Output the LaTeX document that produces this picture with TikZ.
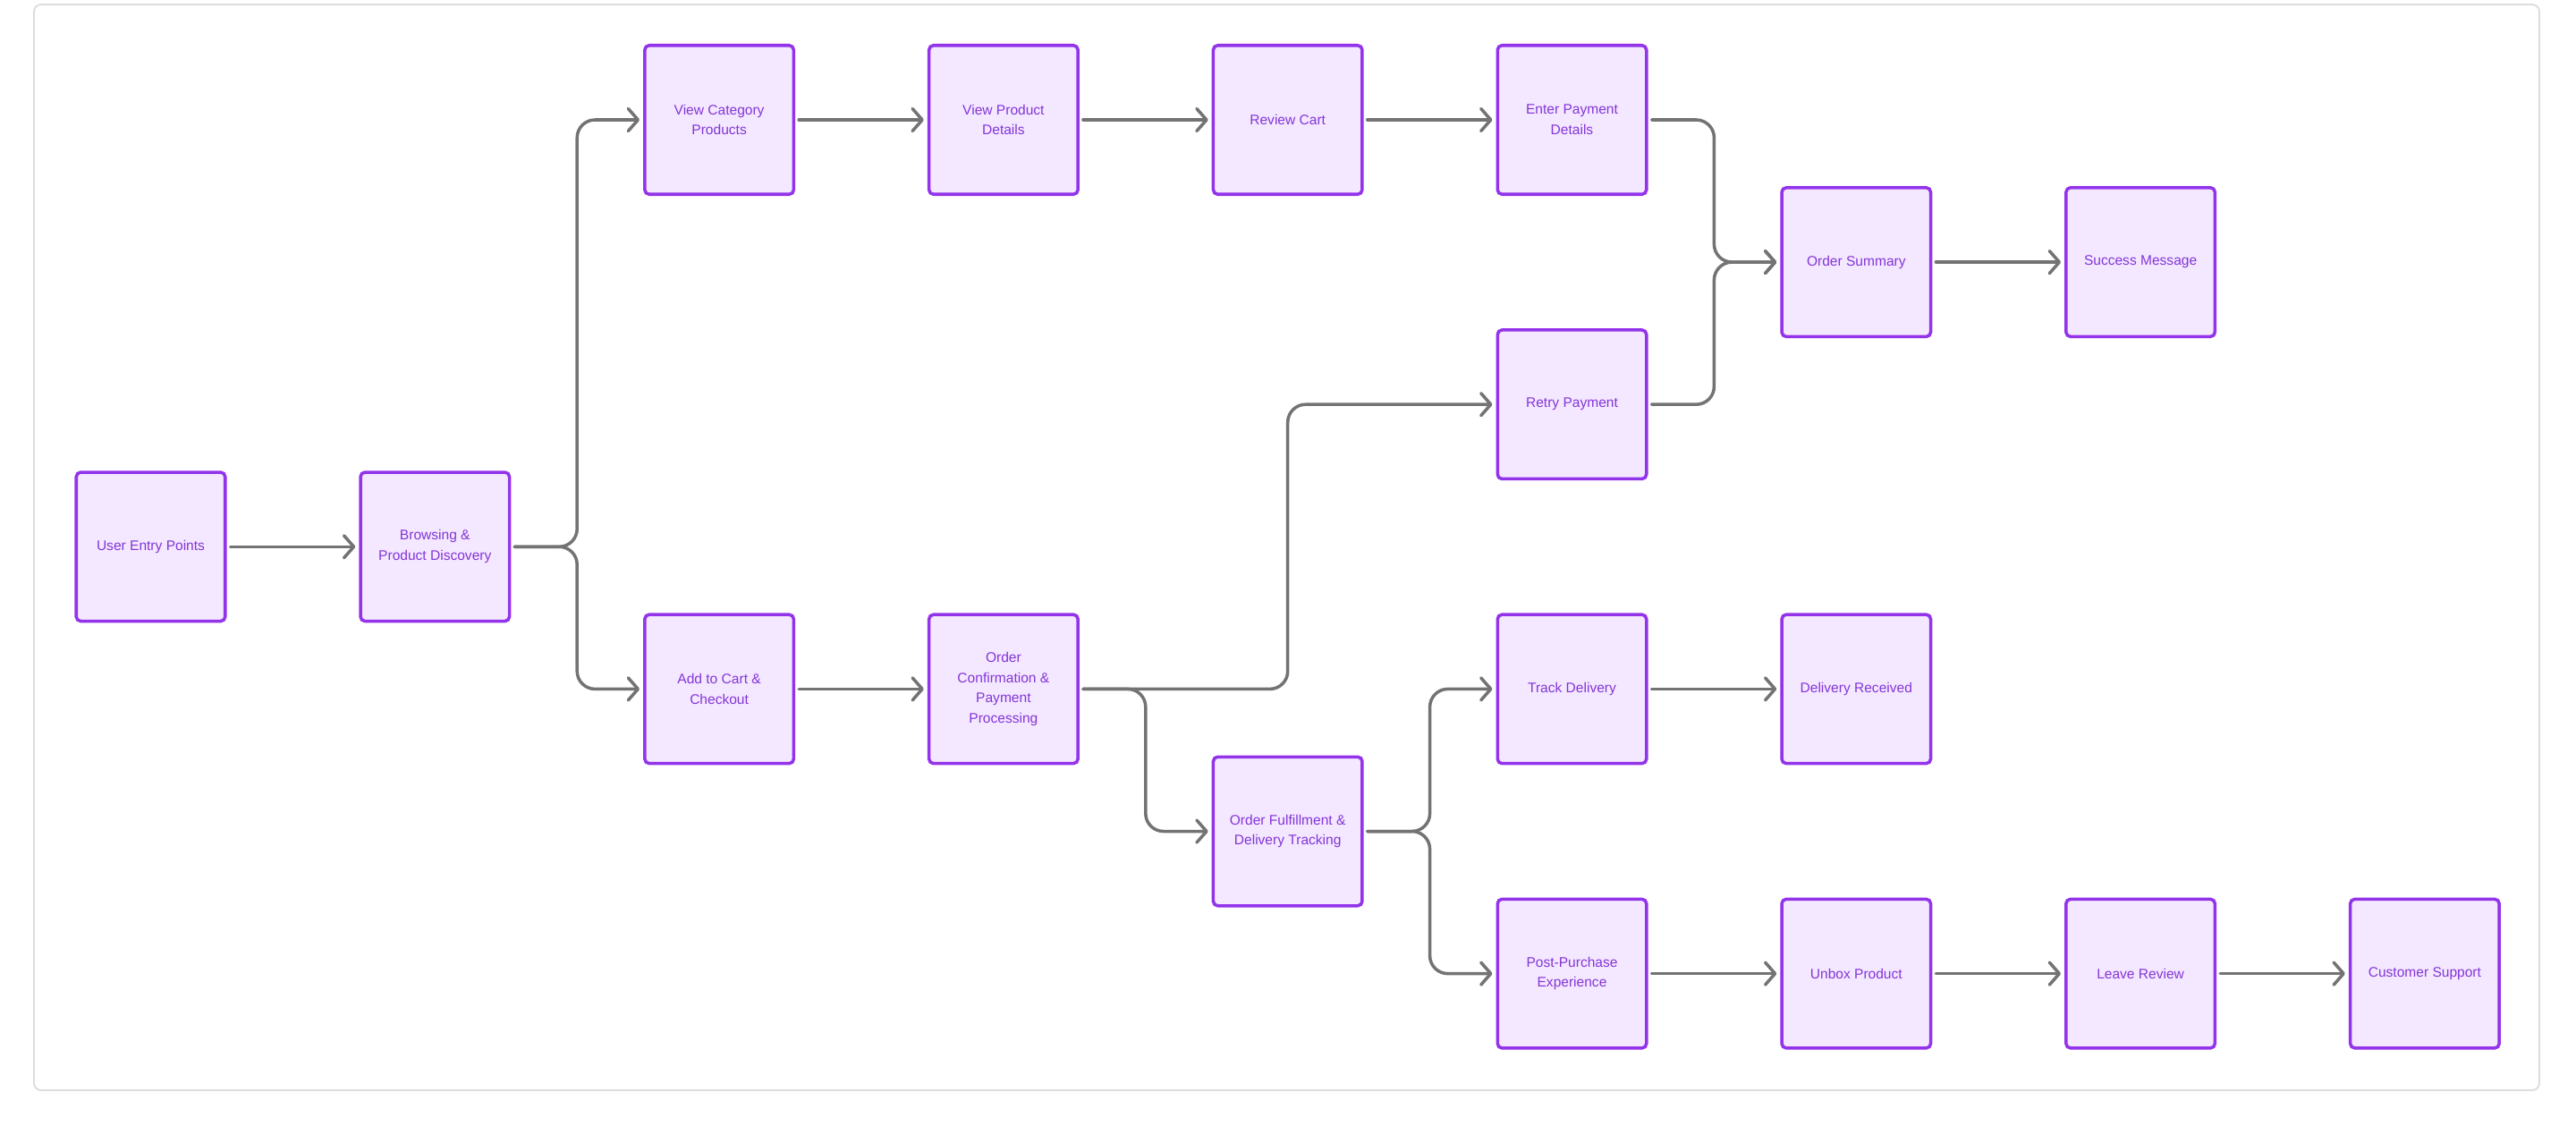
\documentclass[tikz,border=0pt]{standalone}
\usepackage{xcolor}
\usepackage{fontspec}
\setmainfont{Liberation Sans}
\usetikzlibrary{arrows.meta,calc}

\definecolor{boxline}{HTML}{9333EA}
\definecolor{boxfill}{HTML}{F3E8FF}
\definecolor{boxtext}{HTML}{8435D8}
\definecolor{flowline}{HTML}{737373}
\definecolor{frameline}{HTML}{DDDDDD}

\tikzset{
  elbow/.style={to path={-| ($(\tikztostart)!.5!(\tikztotarget)$) |- (\tikztotarget)}}
}

\begin{document}
\begin{tikzpicture}
        \useasboundingbox (0,0) rectangle (57.6,-25.16);
        \draw[frameline,line width=1.1pt,rounded corners=0.16cm] (0.76,-0.1) rectangle (56.78,-24.38);
        \begin{scope}[every node/.style={draw=boxline,fill=boxfill,text=boxtext,line width=2pt,rounded corners=0.1cm,minimum width=3.33cm,minimum height=3.33cm,inner sep=0pt,align=center,font=\fontsize{8.85}{12.9}\selectfont}]
          \node (entry) at (3.37,-12.226) {User Entry Points};
          \node (browse) at (9.726,-12.226) {Browsing \&\\Product Discovery};
          \node (catprod) at (16.082,-2.68) {View Category\\Products};
          \node (proddet) at (22.438,-2.68) {View Product\\Details};
          \node (cart) at (28.794,-2.68) {Review Cart};
          \node (paydet) at (35.15,-2.68) {Enter Payment\\Details};
          \node (summary) at (41.506,-5.862) {Order Summary};
          \node (success) at (47.862,-5.862) {Success Message};
          \node (retry) at (35.15,-9.044) {Retry Payment};
          \node (checkout) at (16.082,-15.408) {Add to Cart \&\\Checkout};
          \node (confirm) at (22.438,-15.408) {Order\\Confirmation \&\\Payment\\Processing};
          \node (fulfil) at (28.794,-18.59) {Order Fulfillment \&\\Delivery Tracking};
          \node (track) at (35.15,-15.408) {Track Delivery};
          \node (received) at (41.506,-15.408) {Delivery Received};
          \node (postbuy) at (35.15,-21.772) {Post-Purchase\\Experience};
          \node (unbox) at (41.506,-21.772) {Unbox Product};
          \node (review) at (47.862,-21.772) {Leave Review};
          \node (support) at (54.218,-21.772) {Customer Support};
        \end{scope}
        \begin{scope}[every edge/.style={draw=flowline,line width=2pt,line cap=round,rounded corners=0.4cm,shorten <=0.08cm,shorten >=0.08cm,-{Straight Barb[length=0.22cm,width=0.5cm,round]}}]
          \path (entry) edge (browse);
          \path (browse.east) edge[elbow] (catprod.west);
          \path (browse.east) edge[elbow] (checkout.west);
          \path (catprod) edge (proddet);
          \path (proddet) edge (cart);
          \path (cart) edge (paydet);
          \path (paydet.east) edge[elbow] (summary.west);
          \path (retry.east) edge[elbow] (summary.west);
          \path (summary) edge (success);
          \path (checkout) edge (confirm);
          \path (confirm.east) edge[elbow] (retry.west);
          \path (confirm.east) edge[elbow] (fulfil.west);
          \path (fulfil.east) edge[elbow] (track.west);
          \path (fulfil.east) edge[elbow] (postbuy.west);
          \path (track) edge (received);
          \path (postbuy) edge (unbox);
          \path (unbox) edge (review);
          \path (review) edge (support);
        \end{scope}
      \end{tikzpicture}
\end{document}
